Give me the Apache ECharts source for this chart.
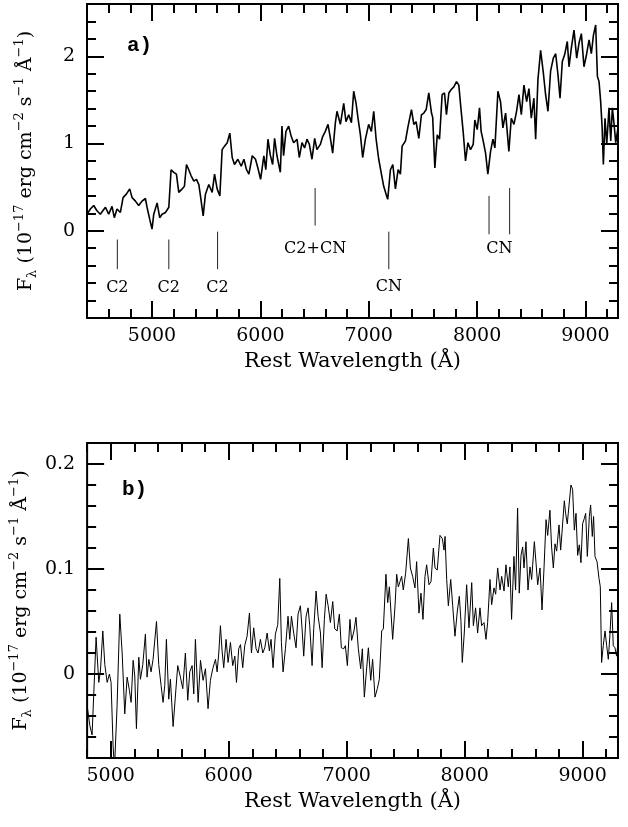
<!DOCTYPE html>
<html><head><meta charset="utf-8">
<script src="https://cdn.jsdelivr.net/npm/echarts@6/dist/echarts.min.js"></script>
<style>html,body{margin:0;padding:0;background:#fff}#c{width:628px;height:827px}</style>
</head><body><div id="c"></div>
<script>
// ---------- Panel a) spectrum ----------
const waveA = [4400,4431,4462,4492,4523,4570,4600,4631,4652,4677,4708,4733,4763,4794,4816,4847,4877,4908,4939,4954,4979,5000,5016,5047,5071,5093,5124,5155,5176,5201,5225,5247,5278,5299,5318,5339,5361,5386,5410,5432,5447,5472,5493,5524,5555,5577,5601,5626,5647,5669,5694,5718,5740,5761,5792,5823,5848,5872,5894,5925,5955,5977,6002,6032,6050,6070,6091,6113,6131,6153,6184,6199,6214,6236,6261,6285,6307,6338,6359,6384,6408,6430,6452,6476,6501,6522,6553,6575,6599,6624,6646,6667,6692,6707,6738,6769,6790,6815,6840,6861,6883,6901,6923,6944,6969,6999,7024,7046,7068,7092,7117,7138,7160,7175,7200,7222,7246,7271,7292,7308,7339,7363,7394,7416,7437,7462,7486,7508,7530,7554,7579,7590,7610,7632,7653,7677,7699,7717,7739,7761,7785,7810,7831,7853,7871,7893,7915,7939,7964,7979,8001,8022,8037,8056,8078,8099,8124,8146,8164,8192,8216,8238,8263,8293,8315,8340,8364,8386,8408,8432,8457,8478,8500,8524,8540,8561,8586,8611,8632,8654,8678,8703,8725,8746,8765,8786,8808,8832,8848,8869,8894,8919,8940,8962,8986,9011,9033,9054,9073,9094,9110,9125,9140,9153,9165,9180,9196,9217,9233,9248,9264,9279,9300];
const fluxA = [0.19,0.25,0.29,0.23,0.19,0.27,0.19,0.28,0.15,0.25,0.21,0.38,0.42,0.48,0.38,0.34,0.29,0.34,0.37,0.27,0.13,0.02,0.19,0.32,0.15,0.19,0.21,0.27,0.70,0.67,0.65,0.44,0.48,0.51,0.76,0.70,0.63,0.57,0.59,0.53,0.40,0.17,0.42,0.53,0.44,0.65,0.48,0.40,0.93,0.97,1.01,1.12,0.84,0.76,0.82,0.74,0.82,0.70,0.65,0.86,0.82,0.72,0.59,0.86,0.70,1.05,0.87,0.76,1.06,0.86,0.67,1.20,0.86,1.14,1.20,1.08,1.01,1.05,0.84,1.01,0.95,1.05,0.99,0.82,1.06,0.93,0.99,1.08,1.14,1.22,1.06,0.89,1.24,1.37,1.22,1.46,1.25,1.33,1.24,1.60,1.46,1.29,1.10,0.84,1.05,1.22,1.14,1.37,1.05,0.82,0.65,0.51,0.42,0.36,0.70,0.76,0.48,0.70,0.65,0.97,1.03,1.20,1.39,1.22,1.25,1.06,1.33,1.35,1.39,1.58,1.35,1.30,0.72,1.10,1.05,1.56,1.58,1.33,1.58,1.62,1.65,1.71,1.67,1.37,1.14,0.80,1.01,0.93,0.99,1.27,1.16,1.41,1.14,1.03,0.89,0.65,0.91,1.05,0.95,1.60,1.48,1.18,1.35,0.91,1.29,1.22,1.37,1.56,1.33,1.67,1.48,1.63,1.29,1.52,1.05,1.73,2.07,1.81,1.56,1.37,1.83,1.98,2.03,1.79,1.52,1.94,2.02,2.17,1.88,2.09,2.30,1.98,2.15,2.26,1.88,2.03,2.19,2.03,2.24,2.36,1.77,1.71,1.48,1.20,0.76,1.29,0.99,1.41,1.03,1.41,1.22,1.01,1.18];

// band identification marks (panel a)
const bandWave   = [4680, 5155, 5605, 6505, 7185, 8110, 8300];
const bandTop    = [-0.10, -0.10, -0.01, 0.49, -0.01, 0.40, 0.49];
const bandBottom = [-0.44, -0.44, -0.44, 0.06, -0.44, -0.04, -0.04];
const labelText  = ['C2', 'C2', 'C2', 'C2+CN', 'CN', 'CN'];
const labelWave  = [4680, 5155, 5605, 6505, 7185, 8205];
const labelFlux  = [-0.65, -0.65, -0.65, -0.21, -0.64, -0.21];

// ---------- Panel b) spectrum ----------
const waveB = [4800,4823,4842,4856,4876,4899,4913,4933,4950,4970,4989,5003,5020,5032,5054,5077,5097,5119,5139,5159,5173,5190,5204,5218,5238,5252,5272,5294,5308,5323,5342,5359,5373,5388,5407,5427,5444,5458,5472,5492,5506,5529,5549,5568,5591,5611,5633,5653,5670,5690,5704,5718,5741,5761,5783,5803,5825,5845,5865,5888,5902,5916,5930,5944,5958,5978,5995,6015,6034,6052,6066,6085,6100,6119,6136,6156,6176,6193,6212,6232,6249,6269,6289,6306,6326,6345,6359,6376,6396,6416,6433,6447,6461,6481,6503,6518,6532,6551,6571,6588,6608,6622,6636,6656,6673,6687,6707,6721,6741,6758,6778,6792,6811,6826,6843,6862,6882,6899,6919,6938,6955,6975,6989,7006,7028,7042,7062,7079,7099,7119,7133,7150,7164,7184,7204,7220,7240,7260,7277,7297,7311,7333,7348,7362,7376,7390,7410,7424,7438,7452,7466,7480,7500,7523,7540,7559,7579,7593,7613,7630,7647,7664,7678,7698,7715,7735,7749,7768,7791,7811,7825,7834,7848,7862,7882,7899,7918,7938,7955,7969,7980,7997,8017,8037,8060,8074,8093,8110,8130,8144,8164,8181,8195,8215,8229,8249,8263,8280,8300,8314,8334,8350,8370,8384,8398,8418,8432,8449,8463,8478,8492,8503,8520,8537,8554,8568,8591,8605,8619,8639,8656,8673,8690,8704,8723,8737,8752,8766,8780,8800,8814,8828,8845,8856,8870,8884,8901,8915,8930,8944,8958,8972,8986,9000,9014,9026,9040,9057,9068,9082,9093,9105,9122,9139,9150,9161,9175,9190,9204,9218,9232,9246,9260,9274,9288,9300];
const fluxB = [-0.030,-0.049,-0.058,-0.020,0.035,-0.008,0.003,0.041,0.009,-0.008,0.000,-0.008,-0.068,-0.090,-0.030,0.057,0.020,-0.038,-0.003,-0.016,-0.027,0.013,-0.002,-0.052,0.016,-0.005,0.009,0.038,-0.003,0.014,0.002,0.014,0.013,0.050,0.009,-0.011,-0.027,-0.011,0.033,-0.024,-0.005,-0.050,-0.020,0.008,-0.003,-0.014,0.020,-0.025,0.002,0.008,-0.019,0.033,-0.027,0.013,-0.006,0.005,-0.033,-0.006,0.005,0.014,0.002,0.020,0.046,0.022,0.006,0.033,0.011,0.030,0.008,0.017,-0.008,0.024,0.028,0.006,0.027,0.036,0.058,0.020,0.044,0.024,0.020,0.033,0.020,0.025,0.039,0.022,0.033,0.006,0.038,0.047,0.091,0.030,0.002,0.024,0.055,0.033,0.055,0.039,0.025,0.057,0.065,0.043,0.017,0.055,0.063,0.046,0.008,0.043,0.079,0.055,0.039,0.006,0.052,0.076,0.065,0.049,0.069,0.043,0.041,0.057,0.025,0.024,0.027,0.008,0.052,0.032,0.041,0.054,0.024,0.005,0.024,-0.022,-0.002,0.025,-0.006,0.014,-0.022,-0.014,-0.005,0.041,0.043,0.095,0.068,0.083,0.058,0.033,0.065,0.095,0.083,0.088,0.093,0.080,0.096,0.129,0.101,0.093,0.082,0.107,0.058,0.077,0.052,0.093,0.104,0.085,0.088,0.120,0.101,0.099,0.132,0.129,0.118,0.131,0.090,0.065,0.090,0.065,0.036,0.060,0.074,0.050,0.011,0.039,0.085,0.044,0.087,0.046,0.063,0.039,0.063,0.046,0.049,0.033,0.049,0.090,0.066,0.082,0.076,0.101,0.080,0.093,0.079,0.104,0.083,0.102,0.052,0.112,0.080,0.158,0.077,0.113,0.121,0.101,0.126,0.080,0.102,0.090,0.126,0.106,0.085,0.101,0.061,0.101,0.147,0.132,0.156,0.121,0.101,0.124,0.117,0.142,0.118,0.139,0.165,0.153,0.143,0.142,0.180,0.176,0.137,0.153,0.113,0.123,0.106,0.143,0.148,0.153,0.112,0.150,0.161,0.131,0.150,0.112,0.107,0.091,0.083,0.011,0.027,0.041,0.027,0.014,0.038,0.068,0.027,0.025,0.017,0.030];

// ---------- Ticks ----------
const xMajorTicks  = [5000, 6000, 7000, 8000, 9000];
const yMajorTicksA = [0, 1, 2];
const yMajorTicksB = [0, 0.1, 0.2];

const SERIF = 'DejaVu Serif';
const TICK_FONT = 19;

function makeX(gridIndex, min, max, minorStep, major, withName) {
  const common = {type: 'value', gridIndex, min, max, splitLine: {show: false}, axisLine: {show: false, onZero: false}};
  return [
    Object.assign({}, common, {position: 'bottom', interval: minorStep,
      axisTick: {inside: true, length: 9, lineStyle: {color: '#000', width: 2}},
      axisLabel: {show: false}}),
    Object.assign({}, common, {position: 'bottom',
      axisTick: {inside: true, length: 17, customValues: major, lineStyle: {color: '#000', width: 2}},
      axisLabel: {customValues: major, margin: 9, color: '#000', fontFamily: SERIF, fontSize: TICK_FONT, formatter: v => String(v)},
      name: withName, nameLocation: 'middle', nameGap: 33,
      nameTextStyle: {color: '#000', fontFamily: SERIF, fontSize: 21}}),
    Object.assign({}, common, {position: 'top', interval: minorStep,
      axisTick: {inside: true, length: 9, lineStyle: {color: '#000', width: 2}},
      axisLabel: {show: false}}),
    Object.assign({}, common, {position: 'top',
      axisTick: {inside: true, length: 17, customValues: major, lineStyle: {color: '#000', width: 2}},
      axisLabel: {show: false}})
  ];
}

const yName = '{t|F}{s|λ}{t| (10}{u|−17}{t| erg cm}{u|−2}{t| s}{u|−1}{t| Å}{u|−1}{t|)}';
const yRich = {
  t: {fontFamily: SERIF, fontSize: 19, lineHeight: 26, color: '#000'},
  u: {fontFamily: SERIF, fontSize: 13, lineHeight: 13, verticalAlign: 'top', color: '#000'},
  s: {fontFamily: SERIF, fontSize: 13, lineHeight: 13, verticalAlign: 'bottom', color: '#000'}
};

function makeY(gridIndex, min, max, minorStep, major, labelFmt) {
  const common = {type: 'value', gridIndex, min, max, splitLine: {show: false}, axisLine: {show: false, onZero: false}};
  return [
    Object.assign({}, common, {position: 'left', interval: minorStep,
      axisTick: {inside: true, length: 9, lineStyle: {color: '#000', width: 2}},
      axisLabel: {show: false}}),
    Object.assign({}, common, {position: 'left',
      axisTick: {inside: true, length: 17, customValues: major, lineStyle: {color: '#000', width: 2}},
      axisLabel: {customValues: major, margin: 12, color: '#000', fontFamily: SERIF, fontSize: TICK_FONT, formatter: labelFmt},
      name: yName, nameLocation: 'middle', nameGap: 48, nameRotate: 90,
      nameTextStyle: {rich: yRich}}),
    Object.assign({}, common, {position: 'right', interval: minorStep,
      axisTick: {inside: true, length: 9, lineStyle: {color: '#000', width: 2}},
      axisLabel: {show: false}}),
    Object.assign({}, common, {position: 'right',
      axisTick: {inside: true, length: 17, customValues: major, lineStyle: {color: '#000', width: 2}},
      axisLabel: {show: false}})
  ];
}

const xAxes = makeX(0, 4400, 9300, 200, xMajorTicks, 'Rest Wavelength (Å)')
  .concat(makeX(1, 4800, 9300, 200, xMajorTicks, 'Rest Wavelength (Å)'));
const yAxes = makeY(0, -1, 2.6, 0.2, yMajorTicksA, v => String(v))
  .concat(makeY(1, -0.08, 0.22, 0.02, yMajorTicksB, v => (v === 0 ? '0' : String(v))));

const series = [];
series.push({
  type: 'line', xAxisIndex: 0, yAxisIndex: 0, showSymbol: false, symbol: 'none', silent: true,
  data: waveA.map((w, i) => [w, fluxA[i]]),
  lineStyle: {color: '#000', width: 1.6}, clip: true, animation: false
});
bandWave.forEach((w, i) => {
  series.push({
    type: 'line', xAxisIndex: 0, yAxisIndex: 0, symbol: 'none', silent: true, animation: false,
    data: [[w, bandTop[i]], [w, bandBottom[i]]],
    lineStyle: {color: '#222', width: 1}
  });
});
series.push({
  type: 'scatter', xAxisIndex: 0, yAxisIndex: 0, symbolSize: 0, silent: true, animation: false,
  data: labelWave.map((w, i) => ({value: [w, labelFlux[i]], name: labelText[i]})),
  label: {show: true, position: 'inside', formatter: '{b}', color: '#000', opacity: 1, fontFamily: SERIF, fontSize: 16}
});
series.push({
  type: 'line', xAxisIndex: 4, yAxisIndex: 4, showSymbol: false, symbol: 'none', silent: true,
  data: waveB.map((w, i) => [w, fluxB[i]]),
  lineStyle: {color: '#000', width: 1}, clip: true, animation: false
});

const chart = echarts.init(document.getElementById('c'), null, {renderer: 'canvas'});
chart.setOption({
  backgroundColor: '#fff',
  animation: false,
  grid: [
    {left: 87, top: 4, width: 531, height: 314, show: true, borderColor: '#000', borderWidth: 2, backgroundColor: 'transparent'},
    {left: 87, top: 443, width: 531, height: 315, show: true, borderColor: '#000', borderWidth: 2, backgroundColor: 'transparent'}
  ],
  xAxis: xAxes,
  yAxis: yAxes,
  graphic: [
    {type: 'text', left: 127, top: 35, style: {text: 'a)', fontFamily: 'Liberation Mono', fontWeight: 'bold', fontSize: 21, fill: '#000'}},
    {type: 'text', left: 122, top: 479, style: {text: 'b)', fontFamily: 'Liberation Mono', fontWeight: 'bold', fontSize: 21, fill: '#000'}}
  ],
  series
});
</script>
</body></html>
